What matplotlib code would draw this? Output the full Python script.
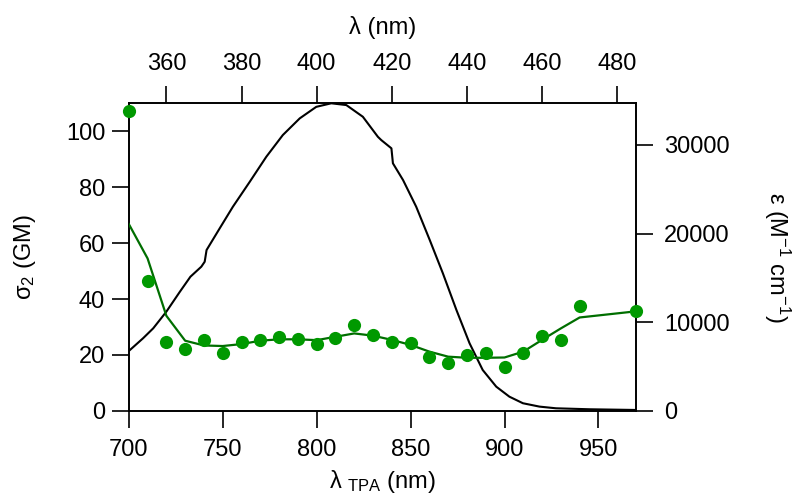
import numpy as np
import matplotlib
matplotlib.use("Agg")
import matplotlib.pyplot as plt

plt.rcParams['font.family'] = ['Liberation Sans', 'DejaVu Sans']
plt.rcParams['mathtext.fontset'] = 'custom'
plt.rcParams['mathtext.rm'] = 'Liberation Sans'
plt.rcParams['mathtext.it'] = 'Liberation Sans:italic'

# two-photon cross section (dots), bottom axis / left axis
tpa_wl = [700, 710, 720, 730, 740, 750, 760, 770, 780, 790, 800, 810, 820, 830,
          840, 850, 860, 870, 880, 890, 900, 910, 920, 930, 940, 970]
tpa_sigma = [107.2, 46.5, 24.5, 22.1, 25.4, 20.6, 24.5, 25.4, 26.4, 25.8, 23.8, 26.1,
             30.7, 27.0, 24.8, 24.2, 19.4, 17.3, 19.9, 20.6, 15.6, 20.6, 26.8, 25.4,
             37.5, 35.6]

# smoothed curve (green line)
fit_wl = [700, 710, 720, 730, 740, 750, 760, 770, 780, 790, 800, 810, 820, 830,
          840, 850, 860, 870, 880, 890, 900, 910, 920, 930, 940, 970]
fit_sigma = [66.8, 54.5, 34.0, 25.1, 23.4, 23.2, 23.9, 25.1, 25.6, 25.6, 25.3, 26.5,
             27.7, 26.9, 25.4, 23.6, 21.2, 19.4, 19.0, 19.0, 19.1, 21.2, 25.4, 29.5,
             33.4, 35.6]

# one-photon absorption, top axis / right axis
abs_wl = [350, 353.8, 356.5, 360, 363.6, 366.4, 369.3, 370.2, 370.7, 374.2, 377.7,
          382.2, 386.6, 391.0, 395.5, 399.9, 403.9, 407.9, 412.3, 416.3, 417.2, 419.9,
          420.3, 423.0, 426.5, 430.1, 433.6, 437.2, 440.7, 444.2, 447.8, 451.3, 454.9,
          459.3, 463.7, 472.6, 485]
abs_eps = [6760, 8200, 9320, 11200, 13450, 15140, 16270, 16830, 18150, 20600, 23030,
           25850, 28670, 31120, 33000, 34300, 34700, 34500, 33180, 30920, 30550, 29620,
           27930, 26040, 23030, 19280, 15520, 11390, 7630, 4620, 2740, 1610, 870,
           490, 300, 190, 110]

fig = plt.figure(figsize=(8, 5.03), dpi=100)
pos = [0.161, 0.183, 0.634, 0.612]
fs = 17

# black spectrum axes (top + right)
axb = fig.add_axes(pos)
axb.plot(abs_wl, abs_eps, color='black', lw=1.5)
axb.set_xlim(350, 485)
axb.set_ylim(0, 34720)
axb.xaxis.tick_top()
axb.xaxis.set_label_position('top')
axb.yaxis.tick_right()
axb.yaxis.set_label_position('right')
axb.set_xticks([360, 380, 400, 420, 440, 460, 480])
axb.set_yticks([0, 10000, 20000, 30000])
axb.set_xlabel('λ (nm)', fontsize=fs, labelpad=14)
axb.set_ylabel('ε (M$^{-1}$ cm$^{-1}$)', fontsize=fs, rotation=270, labelpad=45)

# green TPA axes (bottom + left)
ax = fig.add_axes(pos)
ax.patch.set_alpha(0)
ax.plot(fit_wl, fit_sigma, color='#006e00', lw=1.6, zorder=3)
ax.plot(tpa_wl, tpa_sigma, 'o', color='#009900', ms=9.5, mec='none', zorder=4,
        clip_on=False)
ax.set_xlim(700, 970)
ax.set_ylim(0, 110)
ax.set_xticks([700, 750, 800, 850, 900, 950])
ax.set_yticks([0, 20, 40, 60, 80, 100])
ax.set_xlabel('λ $_{\\rm TPA}$ (nm)', fontsize=fs, labelpad=5)
ax.set_ylabel('σ$_2$ (GM)', fontsize=fs, labelpad=20)

for a in (ax, axb):
    for s in a.spines.values():
        s.set_linewidth(1.2)
    a.tick_params(direction='out', length=12, width=1.2, labelsize=fs, pad=8)
ax.tick_params(axis='y', pad=5)

fig.savefig('out.png', dpi=100)
